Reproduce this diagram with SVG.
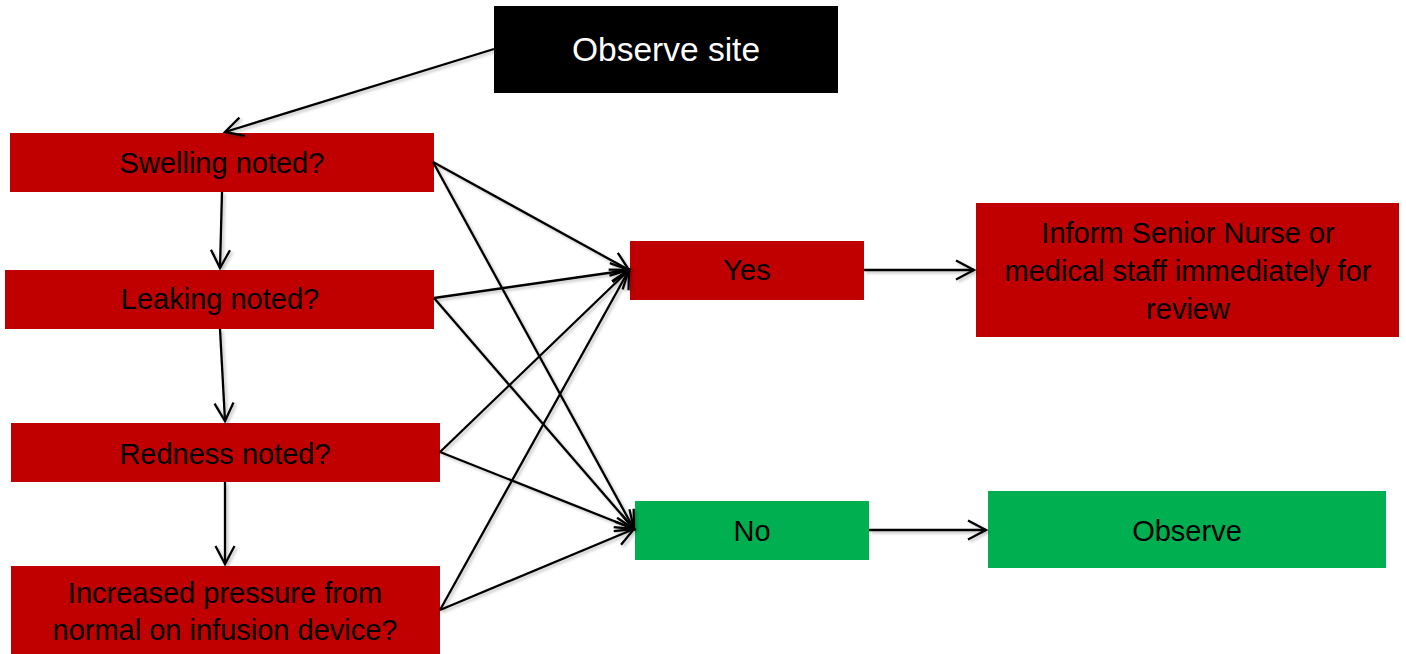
<svg xmlns="http://www.w3.org/2000/svg" width="1406" height="654" viewBox="0 0 1406 654">
<style>
.red{fill:#C00000}
.green{fill:#00B050}
.black{fill:#000000}
text{font-family:"Liberation Sans",Arial,sans-serif;font-size:29px;fill:#000;text-anchor:middle}
.white{fill:#fff;font-size:33.5px}
.conn line{stroke:#000;stroke-width:2.3;fill:none;marker-end:url(#arr)}
</style>
<defs>
<marker id="arr" markerUnits="userSpaceOnUse" viewBox="-22 -12 26 24" refX="0" refY="0" markerWidth="26" markerHeight="24" orient="auto">
<path d="M-18,-9.5 L0,0 L-18,9.5" fill="none" stroke="#000" stroke-width="2.3" stroke-linejoin="miter"/>
</marker>
<filter id="sh" x="-5%" y="-5%" width="110%" height="110%">
<feDropShadow dx="2" dy="2" stdDeviation="1.5" flood-color="#000" flood-opacity="0.25"/>
</filter>
</defs>
<rect width="1406" height="654" fill="#fff"/>
<g id="observe-site"><rect class="black" x="494" y="6" width="344" height="87"/><text class="white" x="666" y="61">Observe site</text></g>
<g id="swelling"><rect class="red" x="10" y="133" width="424" height="59"/><text x="222" y="173">Swelling noted?</text></g>
<g id="leaking"><rect class="red" x="5" y="270" width="429" height="59"/><text x="220" y="309">Leaking noted?</text></g>
<g id="redness"><rect class="red" x="11" y="423" width="429" height="59"/><text x="225" y="464">Redness noted?</text></g>
<g id="pressure"><rect class="red" x="11" y="566" width="429" height="88"/><text x="225" y="603">Increased pressure from</text><text x="225" y="640">normal on infusion device?</text></g>
<g id="yes"><rect class="red" x="630" y="241" width="234" height="59"/><text x="747" y="280">Yes</text></g>
<g id="no"><rect class="green" x="635" y="501" width="234" height="59"/><text x="752" y="541">No</text></g>
<g id="inform"><rect class="red" x="976" y="203" width="423" height="134"/><text x="1188" y="243">Inform Senior Nurse or</text><text x="1188" y="281">medical staff immediately for</text><text x="1188" y="319">review</text></g>
<g id="observe"><rect class="green" x="988" y="491" width="398" height="77"/><text x="1187" y="541">Observe</text></g>
<g id="connectors" class="conn" filter="url(#sh)">
<line x1="494" y1="49" x2="225" y2="132"/>
<line x1="222" y1="192" x2="220" y2="268"/>
<line x1="220" y1="329" x2="225" y2="421"/>
<line x1="225" y1="482" x2="225" y2="564"/>
<line x1="433" y1="162" x2="629" y2="270"/>
<line x1="433" y1="162" x2="634" y2="529"/>
<line x1="434" y1="298" x2="629" y2="270"/>
<line x1="434" y1="298" x2="634" y2="529"/>
<line x1="440" y1="452" x2="629" y2="270"/>
<line x1="440" y1="452" x2="634" y2="529"/>
<line x1="440" y1="610" x2="629" y2="270"/>
<line x1="440" y1="610" x2="634" y2="529"/>
<line x1="864" y1="270" x2="974" y2="270"/>
<line x1="869" y1="530" x2="986" y2="530"/>
</g>
</svg>
